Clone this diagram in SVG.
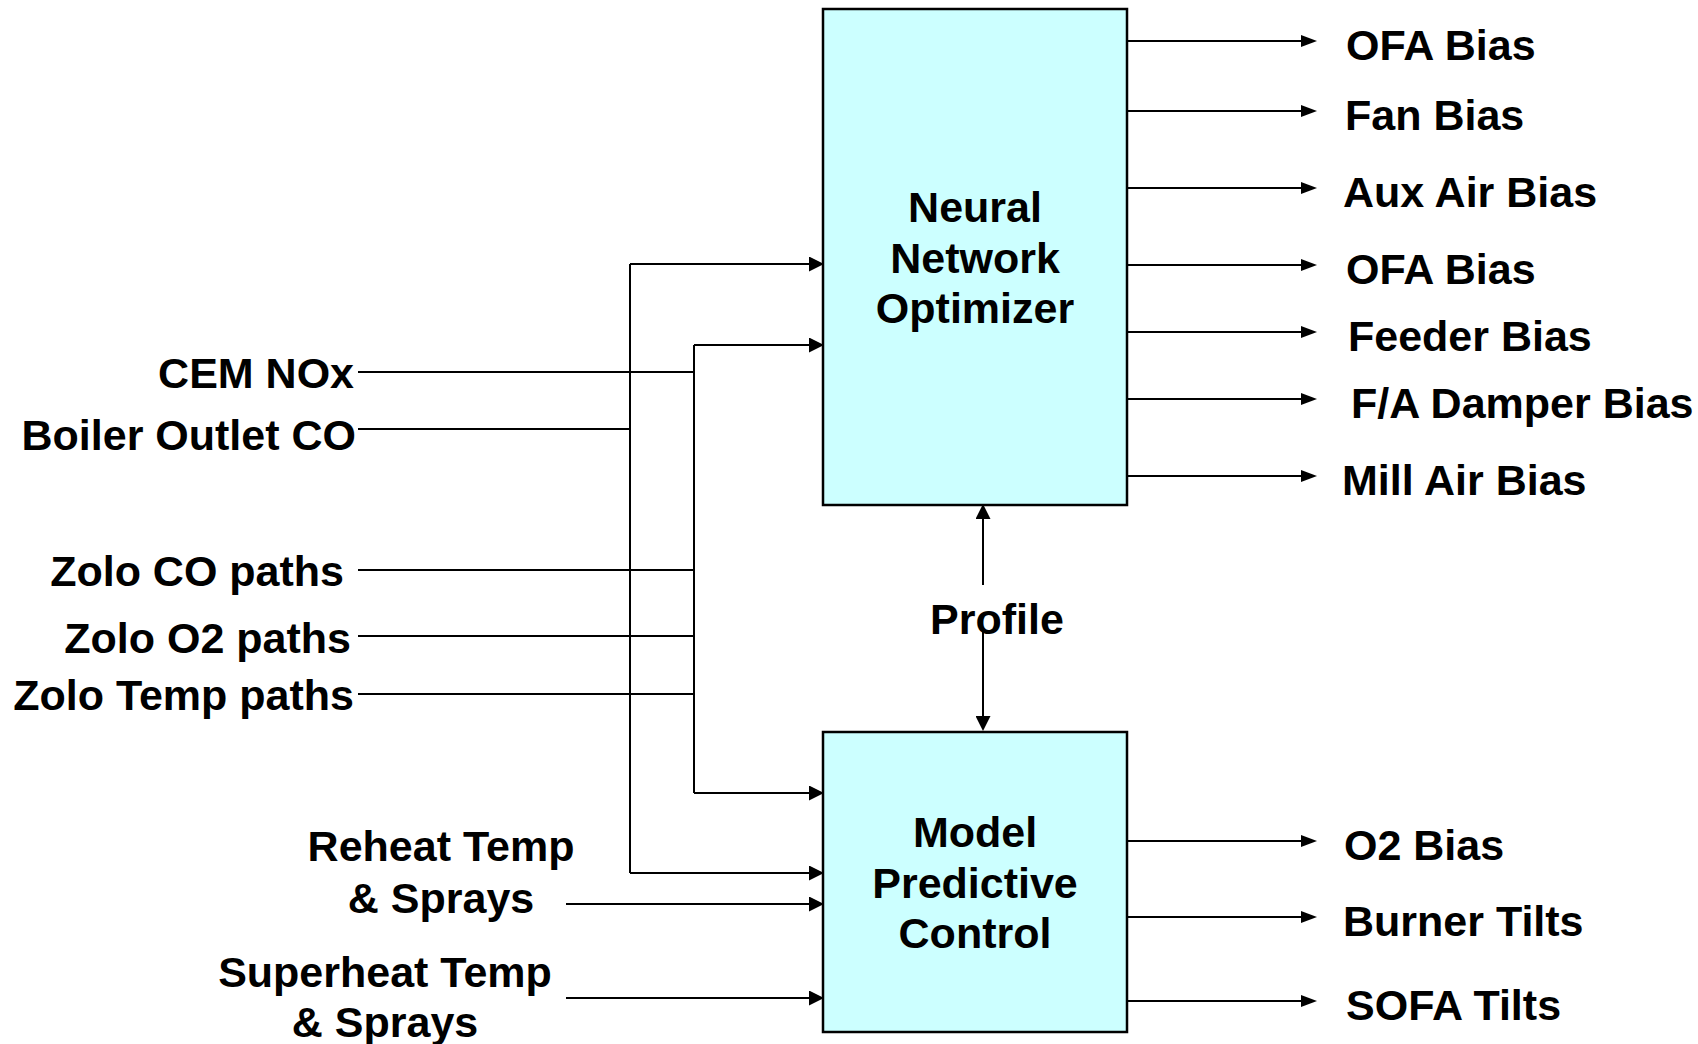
<svg xmlns="http://www.w3.org/2000/svg" width="1698" height="1044" viewBox="0 0 1698 1044">
<defs>
<style>
text{font-family:"Liberation Sans",Arial,sans-serif;font-weight:bold;font-size:43px;fill:#000}
.box{fill:#CCFFFF;stroke:#000;stroke-width:2.5}
.ln{fill:none;stroke:#000;stroke-width:2}
.in{marker-end:url(#arrIn)}
.out{marker-end:url(#arrOut)}
.mid{text-anchor:middle}
.end{text-anchor:end}
</style>
<marker id="arrIn" markerUnits="userSpaceOnUse" viewBox="0 0 15 15" markerWidth="15" markerHeight="15" refX="7" refY="7.5" orient="auto"><path d="M0,0 L15,7.5 L0,15 z" fill="#000"/></marker>
<marker id="arrOut" markerUnits="userSpaceOnUse" viewBox="0 0 16 12" markerWidth="16" markerHeight="12" refX="8" refY="6" orient="auto"><path d="M0,0 L16,6 L0,12 z" fill="#000"/></marker>
</defs>
<rect width="1698" height="1044" fill="#fff"/>

<g id="connectors">
<path class="ln" d="M358,372 H694"/>
<path class="ln" d="M358,429 H630"/>
<path class="ln" d="M358,570 H694"/>
<path class="ln" d="M358,636 H694"/>
<path class="ln" d="M358,694 H694"/>
<path class="ln" d="M630,264 V873"/>
<path class="ln" d="M694,345 V793"/>
<path class="ln in" d="M630,264 H816"/>
<path class="ln in" d="M694,345 H816"/>
<path class="ln in" d="M694,793 H816"/>
<path class="ln in" d="M630,873 H816"/>
<path class="ln in" d="M566,904 H816"/>
<path class="ln in" d="M566,998 H816"/>
<path class="ln in" d="M983,585 V512"/>
<path class="ln in" d="M983,632 V723"/>
<path class="ln out" d="M1127,41 H1309"/>
<path class="ln out" d="M1127,111 H1309"/>
<path class="ln out" d="M1127,188 H1309"/>
<path class="ln out" d="M1127,265 H1309"/>
<path class="ln out" d="M1127,332 H1309"/>
<path class="ln out" d="M1127,399 H1309"/>
<path class="ln out" d="M1127,476 H1309"/>
<path class="ln out" d="M1127,841 H1309"/>
<path class="ln out" d="M1127,917 H1309"/>
<path class="ln out" d="M1127,1001 H1309"/>
</g>

<g id="nn-optimizer">
<rect class="box" x="823" y="9" width="304" height="496"/>
<text class="mid" x="975" y="222">Neural</text>
<text class="mid" x="975" y="273">Network</text>
<text class="mid" x="975" y="323">Optimizer</text>
</g>

<g id="mpc">
<rect class="box" x="823" y="732" width="304" height="300"/>
<text class="mid" x="975" y="847">Model</text>
<text class="mid" x="975" y="898">Predictive</text>
<text class="mid" x="975" y="948">Control</text>
</g>

<g id="profile-label"><text class="mid" x="997" y="634">Profile</text></g>

<g id="inputs">
<text class="end" x="354" y="388">CEM NOx</text>
<text class="end" x="356" y="450">Boiler Outlet CO</text>
<text class="end" x="344" y="586">Zolo CO paths</text>
<text class="end" x="351" y="653">Zolo O2 paths</text>
<text class="end" x="354" y="710">Zolo Temp paths</text>
<text class="mid" x="441" y="861">Reheat Temp</text>
<text class="mid" x="441" y="913">&amp; Sprays</text>
<text class="mid" x="385" y="987">Superheat Temp</text>
<text class="mid" x="385" y="1037">&amp; Sprays</text>
</g>

<g id="outputs">
<text x="1346" y="60">OFA Bias</text>
<text x="1345" y="130">Fan Bias</text>
<text x="1343" y="207">Aux Air Bias</text>
<text x="1346" y="284">OFA Bias</text>
<text x="1348" y="351">Feeder Bias</text>
<text x="1351" y="418">F/A Damper Bias</text>
<text x="1342" y="495">Mill Air Bias</text>
<text x="1344" y="860">O2 Bias</text>
<text x="1343" y="936">Burner Tilts</text>
<text x="1346" y="1020">SOFA Tilts</text>
</g>
</svg>
